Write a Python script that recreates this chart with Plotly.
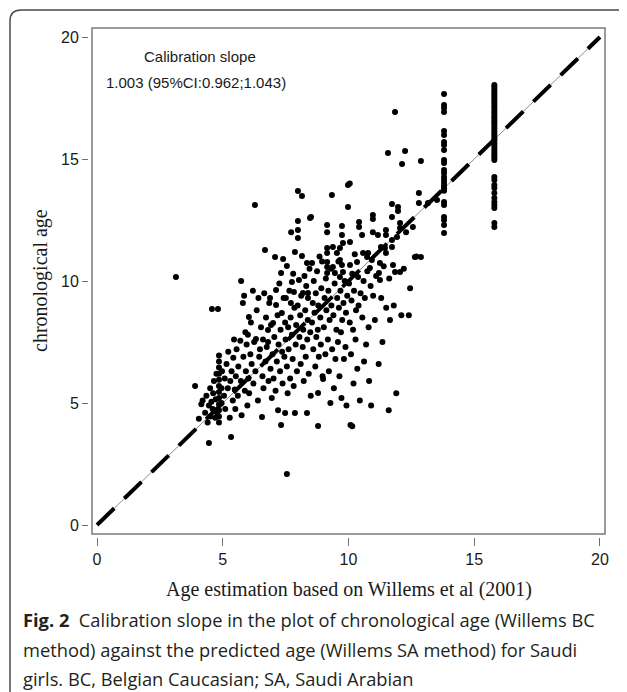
import plotly.graph_objects as go

# ---------------- data ----------------
cloud_x = [
    3.14, 3.90, 4.45, 5.33, 7.55, 4.57, 4.81, 6.28, 5.73, 6.04,
    4.05, 4.15, 4.20, 4.30, 4.35, 4.40, 4.45, 4.50, 4.50, 4.55, 4.60, 4.62, 4.65, 4.70, 4.72, 4.75, 4.78,
    4.85, 4.85, 4.85, 4.85, 4.85, 4.85, 4.85, 4.85, 4.85, 4.85, 4.85, 4.85, 4.95, 4.95, 4.97,
    5.05, 5.08, 5.10, 5.15, 5.20, 5.22, 5.28, 5.30, 5.35, 5.40, 5.42, 5.45, 5.48, 5.50,
    5.52, 5.55, 5.60, 5.62, 5.70, 5.72, 5.75, 5.80, 5.82, 5.85, 5.88, 5.90, 5.92, 5.95, 5.98,
    6.00, 6.02, 6.05, 6.10, 6.12, 6.15, 6.20, 6.22, 6.25, 6.30, 6.32, 6.35, 6.40, 6.42, 6.45, 6.48,
    6.52, 6.56, 6.58, 6.60, 6.62, 6.65, 6.68, 6.70, 6.72, 6.75, 6.80, 6.80, 6.82, 6.85, 6.88, 6.90, 6.92, 6.95, 6.98,
    7.00, 7.02, 7.05, 7.08, 7.10, 7.12, 7.12, 7.15, 7.18, 7.20, 7.22, 7.25, 7.28, 7.30, 7.32, 7.32, 7.35, 7.36, 7.38, 7.40, 7.42, 7.45, 7.48, 7.48,
    7.50, 7.51, 7.55, 7.55, 7.58, 7.60, 7.62, 7.65, 7.68, 7.70, 7.71, 7.72, 7.75, 7.75, 7.78, 7.80, 7.82, 7.83, 7.85, 7.87, 7.87, 7.90, 7.92, 7.95, 7.98, 7.99, 7.99, 7.99, 7.99,
    8.03, 8.05, 8.08, 8.10, 8.12, 8.15, 8.15, 8.18, 8.19, 8.20, 8.22, 8.25, 8.28, 8.30, 8.32, 8.35, 8.35, 8.36, 8.38, 8.39, 8.39, 8.42, 8.45, 8.47, 8.48, 8.50,
    8.51, 8.55, 8.55, 8.58, 8.60, 8.62, 8.65, 8.68, 8.70, 8.72, 8.75, 8.78, 8.79, 8.79, 8.80, 8.82, 8.85, 8.88, 8.90, 8.92, 8.95, 8.97, 8.99,
    9.02, 9.05, 9.08, 9.10, 9.12, 9.15, 9.15, 9.15, 9.15, 9.15, 9.15, 9.15, 9.18, 9.20, 9.22, 9.25, 9.28, 9.30, 9.32, 9.34, 9.35, 9.38, 9.38, 9.40, 9.42, 9.45, 9.46, 9.48,
    9.52, 9.54, 9.55, 9.58, 9.60, 9.62, 9.64, 9.66, 9.66, 9.66, 9.68, 9.70, 9.72, 9.74, 9.74, 9.74, 9.75, 9.78, 9.78, 9.80, 9.82, 9.85, 9.88, 9.90, 9.92, 9.95, 9.98, 9.98,
    10.02, 10.05, 10.06, 10.06, 10.08, 10.10, 10.12, 10.15, 10.15, 10.18, 10.20, 10.22, 10.25, 10.28, 10.30, 10.34, 10.35, 10.38, 10.40, 10.42, 10.42, 10.45, 10.48, 10.05,
    10.54, 10.55, 10.58, 10.60, 10.62, 10.65, 10.70, 10.74, 10.75, 10.78, 10.80, 10.82, 10.85, 10.88, 10.90, 10.93, 10.97, 10.97, 10.97, 10.98,
    11.05, 11.10, 11.17, 11.20, 11.21, 11.25, 11.25, 11.29, 11.30, 11.35, 11.40, 11.45, 11.49, 11.49, 11.49, 11.50,
    11.57, 11.60, 11.62, 11.65, 11.73, 11.73, 11.73, 11.73, 11.77, 11.80, 11.85, 11.85, 11.90, 11.93, 11.97, 11.97,
    12.05, 12.05, 12.05, 12.10, 12.13, 12.20, 12.25, 12.29, 12.40, 12.45, 12.56,
    12.64, 12.80, 12.80, 12.88, 12.88, 13.16, 13.52, 12.70,
]
cloud_y = [
    10.16, 5.70, 3.36, 3.61, 2.09, 8.85, 8.85, 13.11, 10.00, 8.52,
    4.35, 4.95, 5.10, 4.60, 5.30, 4.20, 4.90, 5.60, 4.45, 5.05, 4.75, 5.40, 5.90, 4.40, 5.15, 6.20, 4.60,
    4.20, 4.45, 4.70, 4.95, 5.20, 5.45, 5.70, 5.95, 6.20, 6.45, 6.70, 6.95, 5.60, 5.00, 6.30,
    5.30, 6.00, 4.75, 6.60, 5.60, 7.10, 4.40, 5.90, 6.30, 5.10, 6.85, 7.60, 5.55, 4.75,
    6.10, 7.20, 5.30, 6.50, 7.55, 5.90, 4.50, 9.10, 6.90, 9.40, 5.50, 7.90, 6.30, 7.40, 4.90,
    7.80, 6.00, 5.40, 7.00, 8.30, 6.60, 9.60, 5.80, 7.50, 6.30, 7.62, 8.80, 5.10, 9.30, 6.90, 7.20,
    8.10, 4.43, 6.10, 7.60, 5.60, 9.50, 11.27, 6.70, 8.50, 7.30, 7.50, 7.99, 5.90, 9.10, 9.30, 6.40, 8.20, 5.20, 7.00,
    8.28, 6.00, 7.70, 10.98, 5.50, 9.63, 9.02, 6.70, 8.60, 4.70, 7.40, 9.90, 6.30, 8.00, 10.33, 4.10, 8.69, 7.10, 5.80, 10.90, 9.30, 6.90, 4.59, 8.30,
    7.60, 9.30, 10.61, 6.50, 5.40, 8.10, 7.20, 9.60, 6.00, 8.50, 9.10, 12.00, 9.96, 7.80, 6.80, 10.30, 5.70, 9.55, 8.90, 11.19, 4.59, 7.40, 8.20, 6.30, 9.00, 12.46, 12.09, 11.76, 13.69,
    10.04, 7.70, 8.60, 6.60, 9.40, 13.48, 11.02, 7.30, 9.51, 8.00, 5.90, 10.20, 8.80, 6.90, 9.80, 10.74, 4.59, 7.60, 8.40, 9.51, 9.30, 6.20, 10.50, 12.58, 7.90, 5.30,
    12.62, 10.74, 8.30, 9.10, 7.20, 10.00, 8.70, 6.50, 9.50, 7.70, 10.40, 8.00, 4.06, 5.41, 9.00, 6.90, 11.00, 8.50, 7.40, 9.70, 10.80, 6.10, 5.98,
    8.10, 9.30, 7.00, 10.10, 8.80, 12.30, 12.00, 11.35, 11.15, 10.78, 10.57, 10.33, 7.60, 9.60, 6.30, 8.40, 5.00, 10.50, 9.00, 13.52, 7.20, 11.39, 10.57, 8.60, 5.60, 9.90, 10.33, 6.80,
    8.00, 11.15, 9.30, 7.50, 10.80, 8.90, 6.10, 11.35, 10.86, 10.16, 9.60, 7.90, 5.20, 12.25, 11.89, 10.66, 8.40, 11.56, 10.37, 9.10, 6.80, 10.00, 7.30, 8.70, 4.90, 9.40, 13.93, 13.03,
    9.90, 8.30, 11.60, 10.66, 4.10, 7.00, 9.20, 4.05, 10.30, 8.00, 5.80, 9.60, 11.10, 7.60, 8.80, 10.78, 6.40, 10.16, 9.00, 12.42, 12.21, 5.10, 9.50, 14.00,
    11.89, 8.50, 11.15, 10.00, 6.70, 9.30, 7.40, 10.98, 10.40, 11.15, 8.10, 5.90, 10.53, 9.80, 4.90, 10.86, 12.70, 12.54, 12.00, 9.40,
    8.40, 10.20, 11.89, 6.60, 10.33, 10.74, 10.04, 11.39, 9.30, 7.50, 10.60, 11.35, 12.09, 11.89, 11.15, 8.90,
    15.25, 4.70, 10.10, 8.40, 13.16, 12.62, 11.68, 11.39, 10.66, 9.00, 16.93, 10.37, 5.40, 11.80, 13.03, 12.87,
    12.38, 12.17, 10.37, 8.60, 14.80, 10.50, 15.33, 12.00, 8.60, 9.70, 12.21,
    10.98, 13.20, 13.61, 10.98, 14.92, 13.20, 13.32, 11.00,
]

col1_x = 13.8
col1_y = [17.66, 17.21, 17.09, 16.93, 16.15, 15.98, 15.70, 15.57, 15.37, 14.96,
          14.84, 14.55, 14.43, 14.26, 14.14, 14.02, 13.90, 13.80, 13.70, 13.24,
          13.11, 12.62, 12.50, 12.30, 11.97]

col2_x = 15.8
col2_y = [18.03, 17.95, 17.85, 17.75, 17.65, 17.55, 17.45, 17.35, 17.25, 17.15,
          17.05, 16.95, 16.85, 16.75, 16.65, 16.55, 16.45, 16.35, 16.25, 16.15,
          16.05, 15.95, 15.85, 15.75, 15.65, 15.55, 15.45, 15.35, 15.25, 15.15,
          15.05, 14.96, 14.26, 14.14, 13.93, 13.81, 13.61, 13.40, 13.24, 13.11,
          12.99, 12.38, 12.21]

ref_x = [0, 20]
ref_y = [0, 20]
fit_x = [0, 20]
fit_y = [0, 20]

x_ticks = [0, 5, 10, 15, 20]
y_ticks = [0, 5, 10, 15, 20]

# ---------------- figure ----------------
# The page body keeps an 8px default margin, so the figure is sized to the rest
# of the window and window coordinates are shifted by OFF.
OFF = 8
W, H = 627 - OFF, 692 - OFF
L, R, T, B = 89 - OFF, 22, 28 - OFF, 155
PW, PH = W - L - R, H - T - B


def px(xw):
    return (xw - OFF - L) / PW


def py(yw):
    return (H - B - (yw - OFF)) / PH


fig = go.Figure()
fig.add_trace(go.Scatter(x=ref_x, y=ref_y, mode="lines",
                         line=dict(color="#8c8c8c", width=1), hoverinfo="skip"))
fig.add_trace(go.Scatter(x=fit_x, y=fit_y, mode="lines",
                         line=dict(color="black", width=4, dash="24px,14px"), hoverinfo="skip"))
fig.add_trace(go.Scatter(x=cloud_x, y=cloud_y, mode="markers",
                         marker=dict(color="black", size=6)))
fig.add_trace(go.Scatter(x=[col1_x] * len(col1_y), y=col1_y, mode="markers",
                         marker=dict(color="black", size=6)))
fig.add_trace(go.Scatter(x=[col2_x] * len(col2_y), y=col2_y, mode="markers",
                         marker=dict(color="black", size=6)))

tickfont = dict(family="Liberation Sans, Arial", size=16, color="#1a1a1a")
fig.update_xaxes(range=[-0.318, 20.2], tickvals=x_ticks, ticks="outside", ticklen=8,
                 tickcolor="#707070", tickwidth=1.2, showgrid=False, zeroline=False,
                 showline=False, tickfont=tickfont)
fig.update_yaxes(range=[-0.492, 20.369], tickvals=y_ticks, ticks="outside", ticklen=6,
                 tickcolor="#707070", tickwidth=1.2, showgrid=False, zeroline=False,
                 showline=False, tickfont=tickfont)

shapes = [
    dict(type="rect", xref="paper", yref="paper", x0=px(92), x1=px(605), y0=py(534), y1=py(28),
         line=dict(color="#7a7a7a", width=1.5), fillcolor="rgba(0,0,0,0)"),
    dict(type="path", xref="paper", yref="paper",
         path=f"M {px(10)},{py(720)} L {px(10)},{py(21)} Q {px(10)},{py(10)} {px(21)},{py(10)} L {px(660)},{py(10)}",
         line=dict(color="#4a4a4a", width=1.5)),
]

serif = dict(family="Liberation Serif, Times New Roman", size=20, color="#1a1a1a")
cap = dict(family="Open Sans, Noto Sans", size=18.3, color="#231f20")
sans = dict(family="Liberation Sans, Arial", size=15, color="#1a1a1a")
annotations = [
    dict(text="Calibration slope", x=px(200), y=py(57), xref="paper", yref="paper",
         showarrow=False, xanchor="center", yanchor="middle", font=sans),
    dict(text="1.003 (95%CI:0.962;1.043)", x=px(104), y=py(82), xref="paper", yref="paper",
         showarrow=False, xanchor="left", yanchor="middle", font=sans),
    dict(text="Age estimation based on Willems et al (2001)", x=px(349), y=py(589),
         xref="paper", yref="paper", showarrow=False, xanchor="center", yanchor="middle", font=serif),
    dict(text="chronological age", x=px(40), y=py(281), xref="paper", yref="paper",
         showarrow=False, xanchor="center", yanchor="middle", textangle=-90, font=serif),
    dict(text="<b>Fig. 2</b>  Calibration slope in the plot of chronological age (Willems BC",
         x=px(21), y=py(619), xref="paper", yref="paper", showarrow=False,
         xanchor="left", yanchor="middle", font=cap),
    dict(text="method) against the predicted age (Willems SA method) for Saudi",
         x=px(21), y=py(649), xref="paper", yref="paper", showarrow=False,
         xanchor="left", yanchor="middle", font=cap),
    dict(text="girls. BC, Belgian Caucasian; SA, Saudi Arabian",
         x=px(21), y=py(678), xref="paper", yref="paper", showarrow=False,
         xanchor="left", yanchor="middle", font=cap),
]

fig.update_layout(width=W, height=H, margin=dict(l=L, r=R, t=T, b=B, pad=0),
                  plot_bgcolor="white", paper_bgcolor="white", showlegend=False,
                  shapes=shapes, annotations=annotations)

fig.write_html("out.html")
